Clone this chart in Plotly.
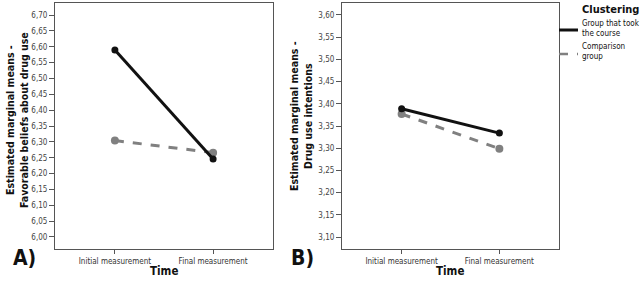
import plotly.graph_objects as go

times = ["Initial measurement", "Final measurement"]
groups = ["Group that took the course", "Comparison group"]
beliefs_course = [6.59, 6.246]
beliefs_comparison = [6.304, 6.266]
intent_course = [3.389, 3.334]
intent_comparison = [3.377, 3.299]
ticks_a = [6.00, 6.05, 6.10, 6.15, 6.20, 6.25, 6.30, 6.35, 6.40, 6.45, 6.50, 6.55, 6.60, 6.65, 6.70]
ticks_b = [3.10, 3.15, 3.20, 3.25, 3.30, 3.35, 3.40, 3.45, 3.50, 3.55, 3.60]

W, H = 640, 281
FONT = "DejaVu Sans Condensed, Arial Narrow, sans-serif"
BLACK = "#111111"
GRAY = "#808080"
AXC = "#555555"

fig = go.Figure()

def add_pair(course, comp, xa, ya):
    fig.add_trace(go.Scatter(x=times, y=comp, mode="lines+markers", xaxis=xa, yaxis=ya,
                             name=groups[1],
                             line=dict(color=GRAY, width=3, dash="dash"),
                             marker=dict(color=GRAY, size=8), showlegend=False))
    fig.add_trace(go.Scatter(x=times, y=course, mode="lines+markers", xaxis=xa, yaxis=ya,
                             name=groups[0],
                             line=dict(color=BLACK, width=3),
                             marker=dict(color=BLACK, size=7), showlegend=False))

add_pair(beliefs_course, beliefs_comparison, "x", "y")
add_pair(intent_course, intent_comparison, "x2", "y2")

ydom = [1 - 249 / H, 1 - 3 / H]
xcommon = dict(type="category", range=[-0.61, 1.61], showline=True, mirror=True,
               linecolor=AXC, linewidth=1, ticks="outside", ticklen=4, tickcolor=AXC,
               tickfont=dict(family=FONT, size=8, color="#333333"), showgrid=False, zeroline=False,
               fixedrange=True)
ycommon = dict(showline=True, mirror=True, linecolor=AXC, linewidth=1, ticks="outside",
               ticklen=5, tickcolor=AXC, tickformat=".2f",
               tickfont=dict(family=FONT, size=8, color="#444444"), showgrid=False, zeroline=False,
               domain=ydom, fixedrange=True)

fig.update_layout(
    width=W, height=H, margin=dict(l=0, r=0, t=0, b=0),
    paper_bgcolor="white", plot_bgcolor="white",
    separators=",.",
    xaxis=dict(domain=[55 / W, 273 / W], anchor="y", **xcommon),
    xaxis2=dict(domain=[342 / W, 559 / W], anchor="y2", **xcommon),
    yaxis=dict(range=[5.962, 6.738], tickvals=ticks_a, anchor="x", **ycommon),
    yaxis2=dict(range=[3.073, 3.627], tickvals=ticks_b, anchor="x2", **ycommon),
    showlegend=False,
)

ann = []
def txt(x, y, text, size, bold=False, angle=0, xanchor="center", yanchor="middle", align="center"):
    ann.append(dict(x=x / W, y=1 - y / H, xref="paper", yref="paper", text=text, showarrow=False,
                    textangle=angle, xanchor=xanchor, yanchor=yanchor, align=align,
                    font=dict(family=FONT, size=size, color="#111111", weight="bold" if bold else "normal")))

txt(17, 120, "Estimated marginal means -<br>Favorable beliefs about drug use", 10.5, bold=True, angle=-90)
txt(301, 116, "Estimated marginal means -<br>Drug use intentions", 10.5, bold=True, angle=-90)
txt(164, 271, "Time", 11.5, bold=True)
txt(450, 271, "Time", 11.5, bold=True)
txt(24, 258, "A)", 21, bold=True)
txt(302, 258, "B)", 21, bold=True)
txt(580, 10, "Clustering", 11, bold=True, xanchor="left")
txt(580, 28, "Group that took<br>the course", 8, xanchor="left", align="left")
txt(580, 52, "Comparison<br>group", 8, xanchor="left", align="left")
fig.update_layout(annotations=ann)

fig.add_shape(type="line", xref="paper", yref="paper", x0=559 / W, x1=578 / W,
              y0=1 - 30 / H, y1=1 - 30 / H, line=dict(color=BLACK, width=3))
fig.add_shape(type="line", xref="paper", yref="paper", x0=559 / W, x1=578 / W,
              y0=1 - 54 / H, y1=1 - 54 / H, line=dict(color=GRAY, width=2.5, dash="dash"))

fig.write_html("out.html", config={"displayModeBar": False},
               post_script="document.body.style.margin='0';document.body.style.overflow='hidden';")
